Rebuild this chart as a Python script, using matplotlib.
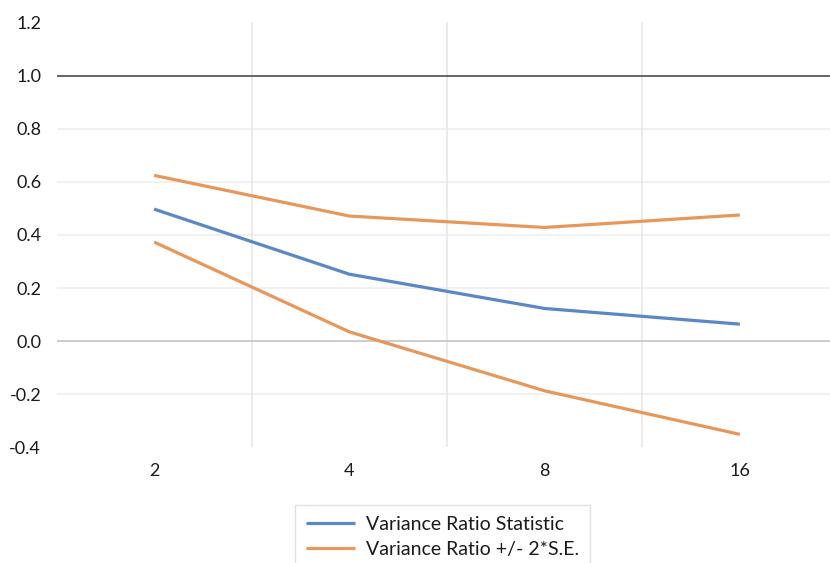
import matplotlib
matplotlib.use("Agg")
import matplotlib.pyplot as plt
import numpy as np

categories = ["2", "4", "8", "16"]
vr_stat = [0.497, 0.252, 0.123, 0.064]
vr_upper = [0.624, 0.471, 0.428, 0.475]
vr_lower = [0.373, 0.035, -0.187, -0.351]
yticks = [-0.4, -0.2, 0.0, 0.2, 0.4, 0.6, 0.8, 1.0, 1.2]

plt.rcParams['font.family'] = ['Lato', 'DejaVu Sans']

W, H = 830, 563
fig = plt.figure(figsize=(W / 100, H / 100), dpi=100)
left, right, top, bottom = 56.5, 837.5, 22.4, 447.4
ax = fig.add_axes([left / W, 1 - bottom / H, (right - left) / W, (bottom - top) / H])

x = np.arange(len(categories))
blue = "#5B87C6"
orange = "#E8975B"

ax.set_xlim(-0.5, len(categories) - 0.5)
ax.set_ylim(-0.4, 1.2)

# gridlines
for v in yticks:
    if v in (-0.4, 1.2):
        continue
    if abs(v) < 1e-9:
        ax.axhline(v, color="#bfbfbf", lw=1.1, zorder=1)
    elif abs(v - 1.0) < 1e-9:
        ax.axhline(v, color="#595959", lw=1.3, zorder=1)
    else:
        ax.axhline(v, color="#ededed", lw=1.1, zorder=0)
for b in x[:-1] + 0.5:
    ax.axvline(b, color="#e6e6e6", lw=1.1, zorder=0)

l1, = ax.plot(x, vr_stat, color=blue, lw=2.3, solid_capstyle="butt", zorder=3,
              label="Variance Ratio Statistic")
l2, = ax.plot(x, vr_upper, color=orange, lw=2.3, solid_capstyle="butt", zorder=3,
              label="Variance Ratio +/- 2*S.E.")
ax.plot(x, vr_lower, color=orange, lw=2.3, solid_capstyle="butt", zorder=3)

ax.set_xticks(x)
ax.set_xticklabels(categories)
ax.set_yticks(yticks)
ax.set_yticklabels([f"{v:.1f}" for v in yticks])
ax.tick_params(axis="both", length=0, labelsize=13, colors="#1a1a1a")
ax.tick_params(axis="y", pad=11)
ax.tick_params(axis="x", pad=11)
for s in ax.spines.values():
    s.set_visible(False)

leg = fig.legend(handles=[l1, l2], loc="upper left",
                 bbox_to_anchor=(295 / W, 1 - 505 / H), borderaxespad=0,
                 fontsize=14, frameon=True, fancybox=False,
                 handlelength=2.55, handletextpad=0.57, borderpad=0.55,
                 labelspacing=0.42)
leg.get_frame().set_edgecolor("#d9d9d9")
leg.get_frame().set_linewidth(1.0)
for t in leg.get_texts():
    t.set_color("#1a1a1a")

fig.savefig("out.png", dpi=100)
